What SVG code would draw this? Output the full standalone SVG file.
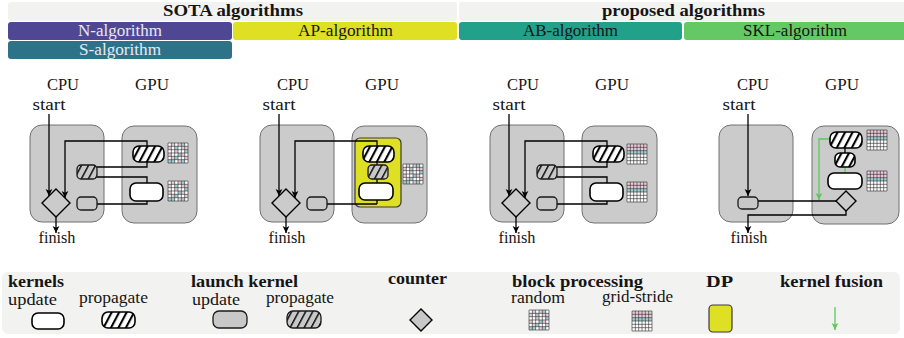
<svg xmlns="http://www.w3.org/2000/svg" width="904" height="338" viewBox="0 0 904 338">
<style>
.t{font-family:"Liberation Serif","DejaVu Serif",serif;font-size:16px;fill:#151515}
.b{font-weight:bold}
.m{text-anchor:middle}
.lt{fill:#e8e8f2}
.hdr{fill:#f2f2f0}
.box{fill:#cbcbcb;stroke:#707070;stroke-width:1}
.ker{fill:#fff;stroke:#000;stroke-width:1.6}
.kerh{fill:url(#hW);stroke:#000;stroke-width:1.6}
.lk{fill:#c8c8c8;stroke:#1a1a1a;stroke-width:1.3}
.lkh{fill:url(#hG);stroke:#1a1a1a;stroke-width:1.3}
.dia{fill:#cbcbcb;stroke:#000;stroke-width:1.4}
.dp{fill:#dfe024;stroke:#3a3a3a;stroke-width:1.2}
.con{fill:none;stroke:#000;stroke-width:1.3}
.arr{marker-end:url(#ah)}
.gcon{fill:none;stroke:#5cc85c;stroke-width:1.3}
.garr{marker-end:url(#gah)}
.gl{fill:none;stroke:#2a2a2a;stroke-width:0.6}
</style>
<defs>
<marker id="ah" markerUnits="userSpaceOnUse" markerWidth="8" markerHeight="8" refX="7" refY="4" orient="auto"><path d="M0,0.6 L7,4 L0,7.4 L1.8,4Z" fill="#000"/></marker>
<marker id="gah" markerUnits="userSpaceOnUse" markerWidth="8" markerHeight="8" refX="7" refY="4" orient="auto"><path d="M0,0.6 L7,4 L0,7.4 L1.8,4Z" fill="#5cc85c"/></marker>
<pattern id="hW" width="6.6" height="6.6" patternUnits="userSpaceOnUse" patternTransform="rotate(28)"><rect width="6.6" height="6.6" fill="#fff"/><rect width="2.1" height="6.6" fill="#000"/></pattern>
<pattern id="hG" width="6.2" height="6.2" patternUnits="userSpaceOnUse" patternTransform="rotate(28)"><rect width="6.2" height="6.2" fill="#c8c8c8"/><rect width="1.5" height="6.2" fill="#111"/></pattern>
<g id="gr">
<rect width="20" height="20" fill="#fff"/>
<g fill="#e9c9d7">
<rect x="3.33" y="0" width="3.34" height="3.33"/><rect x="10" y="0" width="3.33" height="3.33"/><rect x="0" y="3.33" width="3.33" height="3.34"/><rect x="16.67" y="3.33" width="3.33" height="3.34"/><rect x="6.67" y="6.67" width="3.33" height="3.33"/><rect x="13.33" y="10" width="3.34" height="3.33"/><rect x="0" y="10" width="3.33" height="3.33"/><rect x="3.33" y="13.33" width="3.34" height="3.34"/><rect x="16.67" y="13.33" width="3.33" height="3.34"/><rect x="10" y="16.67" width="3.33" height="3.33"/><rect x="13.33" y="3.33" width="3.34" height="3.34"/>
</g>
<g fill="#9fd0d4">
<rect x="13.33" y="0" width="3.34" height="3.33"/><rect x="6.67" y="3.33" width="3.33" height="3.34"/><rect x="16.67" y="6.67" width="3.33" height="3.33"/><rect x="10" y="10" width="3.33" height="3.33"/><rect x="6.67" y="13.33" width="3.33" height="3.34"/><rect x="0" y="16.67" width="3.33" height="3.33"/><rect x="3.33" y="16.67" width="3.34" height="3.33"/><rect x="13.33" y="16.67" width="3.34" height="3.33"/>
</g>
<path class="gl" d="M0,0V20M3.33,0V20M6.67,0V20M10,0V20M13.33,0V20M16.67,0V20M20,0V20M0,0H20M0,3.33H20M0,6.67H20M0,10H20M0,13.33H20M0,16.67H20M0,20H20"/>
</g>
<g id="gs">
<rect width="20" height="20" fill="#fff"/>
<rect width="20" height="6.67" fill="#e9c9d7"/>
<rect y="6.67" width="20" height="3.33" fill="#9fd0d4"/>
<path class="gl" d="M0,0V20M3.33,0V20M6.67,0V20M10,0V20M13.33,0V20M16.67,0V20M20,0V20M0,0H20M0,3.33H20M0,6.67H20M0,10H20M0,13.33H20M0,16.67H20M0,20H20"/>
</g>
</defs>
<rect width="904" height="338" fill="#fff"/>

<!-- header -->
<g id="hdr-sota"><rect class="hdr" x="8" y="2" width="449" height="19" rx="3"/><text class="t b m" x="233" y="16" textLength="140" lengthAdjust="spacingAndGlyphs">SOTA algorithms</text></g>
<g id="hdr-proposed"><rect class="hdr" x="459" y="2" width="450" height="19" rx="3"/><text class="t b m" x="683.5" y="16" textLength="163" lengthAdjust="spacingAndGlyphs">proposed algorithms</text></g>
<g id="bar-n"><rect x="8" y="22" width="224" height="18" rx="3" fill="#4f4793"/><text class="t m lt" x="120" y="36" textLength="84" lengthAdjust="spacingAndGlyphs">N-algorithm</text></g>
<g id="bar-ap"><rect x="233" y="22" width="224" height="18" rx="3" fill="#dfe024"/><text class="t m" x="345.5" y="36" textLength="95" lengthAdjust="spacingAndGlyphs">AP-algorithm</text></g>
<g id="bar-ab"><rect x="459" y="22" width="223" height="18" rx="3" fill="#21a08a"/><text class="t m" x="570.5" y="36" textLength="95" lengthAdjust="spacingAndGlyphs">AB-algorithm</text></g>
<g id="bar-skl"><rect x="684" y="22" width="226" height="18" rx="3" fill="#64c964"/><text class="t m" x="795" y="36" textLength="104" lengthAdjust="spacingAndGlyphs">SKL-algorithm</text></g>
<g id="bar-s"><rect x="8" y="41" width="224" height="18" rx="3" fill="#2d7289"/><text class="t m lt" x="120" y="55" textLength="82" lengthAdjust="spacingAndGlyphs">S-algorithm</text></g>

<!-- panel 1 -->
<g id="panel1">
<g id="p1-labels"><text class="t m" x="63" y="90" textLength="32" lengthAdjust="spacingAndGlyphs">CPU</text><text class="t m" x="152" y="90" textLength="34" lengthAdjust="spacingAndGlyphs">GPU</text><text class="t m" x="49" y="110" textLength="33" lengthAdjust="spacingAndGlyphs">start</text><text class="t m" x="57" y="243" textLength="37" lengthAdjust="spacingAndGlyphs">finish</text></g>
<g id="p1-cpu"><rect class="box" x="30" y="125" width="74" height="97" rx="12"/></g>
<g id="p1-gpu"><rect class="box" x="122" y="126" width="75" height="97" rx="12"/></g>
<g id="p1-edges">
<path class="con arr" d="M49,114V196"/>
<path class="con arr" d="M147,146V141H65V198"/>
<path class="con" d="M97,167H147V162"/>
<path class="con" d="M97,177H147V183"/>
<path class="con" d="M97,204H147V201"/>
<path class="con arr" d="M56,217V233"/>
</g>
<g id="p1-counter"><polygon class="dia" points="56,189 70,203 56,217 42,203"/></g>
<g id="p1-lprop"><rect class="lkh" x="77" y="165" width="20" height="14" rx="4"/></g>
<g id="p1-lupd"><rect class="lk" x="77" y="197" width="20" height="13" rx="4"/></g>
<g id="p1-kprop"><rect class="kerh" x="133" y="146" width="31" height="16" rx="6"/></g>
<g id="p1-kupd"><rect class="ker" x="130" y="183" width="33" height="18" rx="6"/></g>
<g id="p1-grid1"><use href="#gr" x="168" y="143"/></g>
<g id="p1-grid2"><use href="#gr" x="168" y="181"/></g>
</g>

<!-- panel 2 -->
<g id="panel2" transform="translate(230,0)">
<g id="p2-labels"><text class="t m" x="63" y="90" textLength="32" lengthAdjust="spacingAndGlyphs">CPU</text><text class="t m" x="152" y="90" textLength="34" lengthAdjust="spacingAndGlyphs">GPU</text><text class="t m" x="49" y="110" textLength="33" lengthAdjust="spacingAndGlyphs">start</text><text class="t m" x="57" y="243" textLength="37" lengthAdjust="spacingAndGlyphs">finish</text></g>
<g id="p2-cpu"><rect class="box" x="30" y="125" width="74" height="97" rx="12"/></g>
<g id="p2-gpu"><rect class="box" x="122" y="126" width="75" height="97" rx="12"/></g>
<g id="p2-dp"><rect class="dp" x="125" y="138" width="46" height="69" rx="5"/></g>
<g id="p2-edges">
<path class="con arr" d="M49,114V196"/>
<path class="con arr" d="M147,204V141H65V198"/>
<path class="con" d="M97,204H147"/>
<path class="con arr" d="M56,217V233"/>
</g>
<g id="p2-counter"><polygon class="dia" points="56,189 70,203 56,217 42,203"/></g>
<g id="p2-lupd"><rect class="lk" x="77" y="197" width="20" height="13" rx="4"/></g>
<g id="p2-kprop"><rect class="kerh" x="133" y="146" width="31" height="16" rx="6"/></g>
<g id="p2-lprop"><rect class="lkh" x="138" y="165" width="20" height="14" rx="4"/></g>
<g id="p2-kupd"><rect class="ker" x="129" y="183" width="34" height="17" rx="6"/></g>
<g id="p2-grid"><use href="#gr" x="173" y="164"/></g>
</g>

<!-- panel 3 -->
<g id="panel3" transform="translate(460,0)">
<g id="p3-labels"><text class="t m" x="63" y="90" textLength="32" lengthAdjust="spacingAndGlyphs">CPU</text><text class="t m" x="152" y="90" textLength="34" lengthAdjust="spacingAndGlyphs">GPU</text><text class="t m" x="49" y="110" textLength="33" lengthAdjust="spacingAndGlyphs">start</text><text class="t m" x="57" y="243" textLength="37" lengthAdjust="spacingAndGlyphs">finish</text></g>
<g id="p3-cpu"><rect class="box" x="30" y="125" width="74" height="97" rx="12"/></g>
<g id="p3-gpu"><rect class="box" x="122" y="126" width="75" height="97" rx="12"/></g>
<g id="p3-edges">
<path class="con arr" d="M49,114V196"/>
<path class="con arr" d="M147,146V141H65V198"/>
<path class="con" d="M97,167H147V162"/>
<path class="con" d="M97,177H147V183"/>
<path class="con" d="M97,204H147V201"/>
<path class="con arr" d="M56,217V233"/>
</g>
<g id="p3-counter"><polygon class="dia" points="56,189 70,203 56,217 42,203"/></g>
<g id="p3-lprop"><rect class="lkh" x="77" y="165" width="20" height="14" rx="4"/></g>
<g id="p3-lupd"><rect class="lk" x="77" y="197" width="20" height="13" rx="4"/></g>
<g id="p3-kprop"><rect class="kerh" x="133" y="146" width="31" height="16" rx="6"/></g>
<g id="p3-kupd"><rect class="ker" x="130" y="183" width="33" height="18" rx="6"/></g>
<g id="p3-grid1"><use href="#gs" x="167" y="144"/></g>
<g id="p3-grid2"><use href="#gs" x="167" y="182"/></g>
</g>

<!-- panel 4 -->
<g id="panel4" transform="translate(690,0)">
<g id="p4-labels"><text class="t m" x="63" y="90" textLength="32" lengthAdjust="spacingAndGlyphs">CPU</text><text class="t m" x="152" y="90" textLength="34" lengthAdjust="spacingAndGlyphs">GPU</text><text class="t m" x="49" y="110" textLength="33" lengthAdjust="spacingAndGlyphs">start</text><text class="t m" x="59" y="243" textLength="37" lengthAdjust="spacingAndGlyphs">finish</text></g>
<g id="p4-cpu"><rect class="box" x="29" y="125" width="74" height="97" rx="12"/></g>
<g id="p4-gpu"><rect class="box" x="122" y="126" width="87" height="98" rx="12"/></g>
<g id="p4-edges">
<path class="con arr" d="M58,114V196"/>
<path class="con" d="M68,201H146"/>
<path class="con arr" d="M156,211V215H58V233"/>
<path class="con" d="M155,148V153"/>
<path class="gcon" d="M155,167V173"/>
<path class="gcon garr" d="M140,139H129V200"/>
</g>
<g id="p4-lupd"><rect class="lk" x="48" y="197" width="20" height="12" rx="4"/></g>
<g id="p4-counter"><polygon class="dia" points="156,191 166,201 156,211 146,201"/></g>
<g id="p4-kprop1"><rect class="kerh" x="140" y="132" width="32" height="16" rx="6"/></g>
<g id="p4-kprop2"><rect class="kerh" x="145" y="153" width="20" height="14" rx="5"/></g>
<g id="p4-kupd"><rect class="ker" x="138" y="173" width="34" height="16" rx="6"/></g>
<g id="p4-grid1"><use href="#gs" x="177" y="130"/></g>
<g id="p4-grid2"><use href="#gs" x="177" y="171"/></g>
</g>

<!-- legend -->
<g id="legend">
<rect class="hdr" x="2" y="272" width="898" height="62" rx="6"/>
<g id="lg-kernels"><text class="t b" x="8" y="287" textLength="56" lengthAdjust="spacingAndGlyphs">kernels</text><text class="t" x="8" y="305" textLength="49" lengthAdjust="spacingAndGlyphs">update</text><text class="t" x="79" y="303" textLength="69" lengthAdjust="spacingAndGlyphs">propagate</text><rect class="ker" x="32" y="313" width="32" height="16" rx="6"/><rect class="kerh" x="102" y="312" width="33" height="16" rx="6"/></g>
<g id="lg-launch"><text class="t b" x="191" y="287" textLength="107" lengthAdjust="spacingAndGlyphs">launch kernel</text><text class="t" x="192" y="305" textLength="48" lengthAdjust="spacingAndGlyphs">update</text><text class="t" x="266" y="303" textLength="68" lengthAdjust="spacingAndGlyphs">propagate</text><rect class="lk" x="213" y="311" width="34" height="17" rx="6"/><rect class="lkh" x="287" y="311" width="34" height="17" rx="6"/></g>
<g id="lg-counter"><text class="t b" x="388" y="284" textLength="59" lengthAdjust="spacingAndGlyphs">counter</text><polygon class="dia" points="421,309 432,320 421,331 410,320" style="fill:#c8c8c8"/></g>
<g id="lg-block"><text class="t b" x="512" y="287" textLength="131" lengthAdjust="spacingAndGlyphs">block processing</text><text class="t" x="511" y="303" textLength="54" lengthAdjust="spacingAndGlyphs">random</text><text class="t" x="602" y="302" textLength="71" lengthAdjust="spacingAndGlyphs">grid-stride</text><use href="#gr" x="529" y="310"/><use href="#gs" x="632" y="311"/></g>
<g id="lg-dp"><text class="t b" x="706" y="287" textLength="27" lengthAdjust="spacingAndGlyphs">DP</text><rect class="dp" x="709" y="305" width="23" height="27" rx="4"/></g>
<g id="lg-fusion"><text class="t b" x="780" y="287" textLength="103" lengthAdjust="spacingAndGlyphs">kernel fusion</text><path class="gcon garr" d="M835,307V330"/></g>
</g>
</svg>
